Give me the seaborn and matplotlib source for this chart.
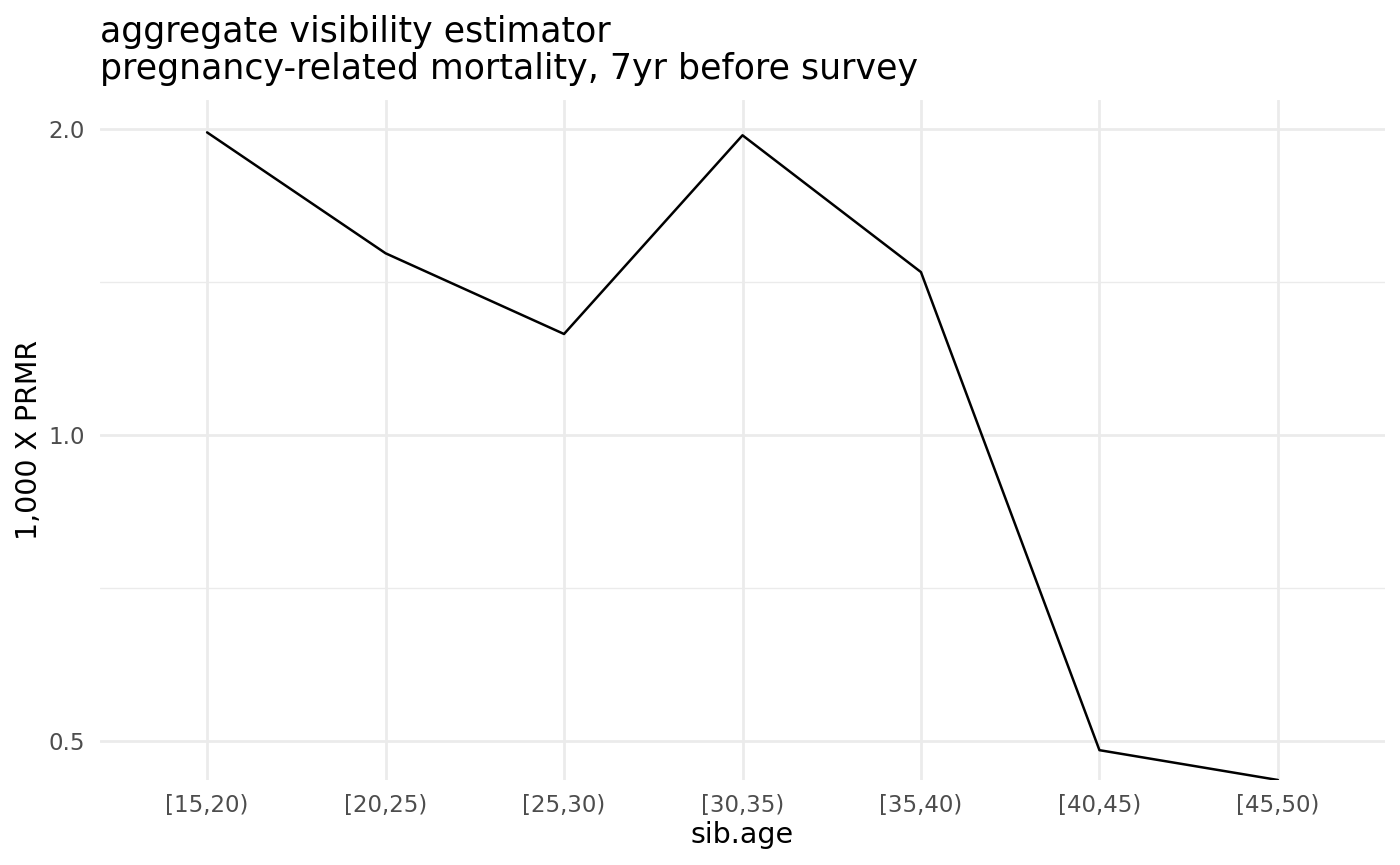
import numpy as np
import pandas as pd
import seaborn as sns
import matplotlib.pyplot as plt
from matplotlib.ticker import FixedLocator, FixedFormatter, NullFormatter

age_groups = ["[15,20)", "[20,25)", "[25,30)", "[30,35)", "[35,40)", "[40,45)", "[45,50)"]
prmr = [1.984, 1.509, 1.257, 1.971, 1.446, 0.490, 0.458]

df = pd.DataFrame({"sib.age": age_groups, "prmr": prmr})

sns.set_style("white")
plt.rcParams["font.family"] = ["DejaVu Sans"]

fig = plt.figure(figsize=(14, 8.65), dpi=100)
# panel spans x 100..1385, y 100..780 (pixels)
ax = fig.add_axes([100 / 1400, 1 - 780 / 865, 1285 / 1400, 680 / 865])

sns.lineplot(data=df, x="sib.age", y="prmr", color="black", linewidth=1.8, ax=ax, sort=False)

ax.set_yscale("log", base=2)
lo, hi = np.log2(min(prmr)), np.log2(max(prmr))
ax.set_ylim(2 ** lo, 2 ** (hi + 0.05 * (hi - lo)))
ax.set_xlim(-0.6, len(age_groups) - 1 + 0.6)

ax.yaxis.set_major_locator(FixedLocator([0.5, 1.0, 2.0]))
ax.yaxis.set_major_formatter(FixedFormatter(["0.5", "1.0", "2.0"]))
ax.yaxis.set_minor_locator(FixedLocator([2 ** -0.5, 2 ** 0.5]))
ax.yaxis.set_minor_formatter(NullFormatter())

ax.grid(True, which="major", color="#EBEBEB", linewidth=2.0)
ax.grid(True, which="minor", axis="y", color="#EBEBEB", linewidth=1.0)
ax.set_axisbelow(True)
for s in ax.spines.values():
    s.set_visible(False)
ax.tick_params(which="both", length=0, labelsize=16.5, labelcolor="#4D4D4D")
ax.tick_params(axis="x", pad=10)
ax.tick_params(axis="y", pad=11)

ax.set_xlabel("sib.age", fontsize=20.5, labelpad=3, color="black")
ax.set_ylabel("1,000 X PRMR", fontsize=20.5, labelpad=4, color="black")
ax.set_title("aggregate visibility estimator\npregnancy-related mortality, 7yr before survey",
             loc="left", fontsize=25, pad=15, linespacing=1.1, color="black")

fig.savefig("out.png", dpi=100)
